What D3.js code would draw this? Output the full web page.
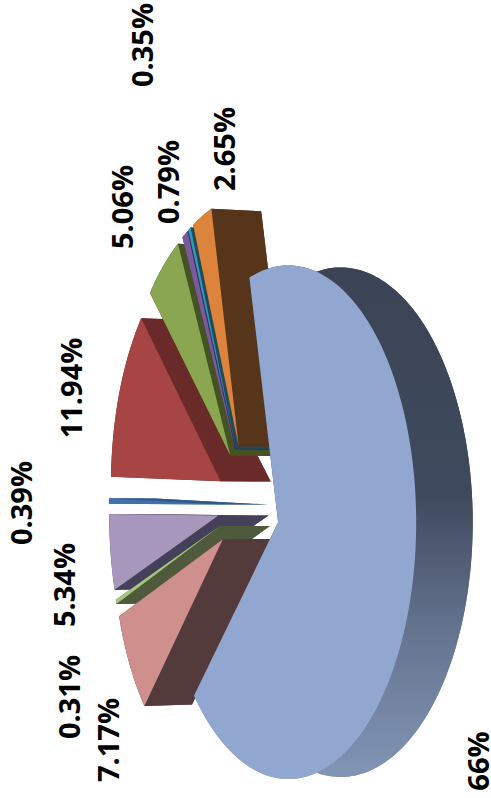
<!DOCTYPE html>
<html>
  <head>
    <meta charset="utf-8">
    <title>Exploded pie</title>
    <script src="https://cdnjs.cloudflare.com/ajax/libs/d3/7.8.5/d3.min.js"></script>
    <style>
      html, body { margin: 0; padding: 0; background: #fff; }
      svg { display: block; }
      text { font-family: "Open Sans", sans-serif; font-weight: 700; font-size: 29px; fill: #000; }
    </style>
  </head>
  <body>
    <svg id="chart" width="491" height="798"></svg>
    <script>
      // data, clockwise from the big slice
      const labels = ["66%", "7.17%", "0.31%", "5.34%", "0.39%", "11.94%", "5.06%", "0.79%", "0.35%", "2.65%"];
      const shares = [66, 7.17, 0.31, 5.34, 0.39, 11.94, 5.06, 0.79, 0.35, 2.65];
      const faceColors = ["#92a7cf", "#cf8f8d", "#a9c47f", "#a897bc", "#3f72a8", "#a64543", "#8aa650", "#7a5a9c", "#2f9ab5", "#dc843c"];
      const wallColors = ["url(#bigWall)", "#543b3b", "#4f5a3c", "#45405a", "#33598a", "#6a2a2a", "#445224", "#3d2c55", "#1d4a5c", "#57351a"];
      // label anchors (middle of the rotated text, on its baseline)
      const labelX = [489, 119, 80, 75, 32, 82, 133, 179, 153, 235];
      const labelY = [761, 740, 697, 585, 503, 388, 207, 182, 45, 149];

      // view of the tilted pie
      const originX = 278, originY = 521;
      const perspective = 0.08, depth = 52, explode = 0.25, depthShrink = 0.008;
      const centre = [-0.24, -0.062];
      const start = -103.3 * Math.PI / 180;

      const scaleU = d3.scaleLinear().domain([-1, 1]).range([-127, 127]);
      const scaleV = d3.scaleLinear().domain([-1, 1]).range([-256, 256]);

      function project(p, z) {
        let s = 1 - perspective * p[0];
        return [
          originX + (scaleU(p[0]) + z * depth) / s,
          originY + scaleV(p[1]) * (1 - z * depthShrink) / s
        ];
      }

      const pie = d3.pie().sort(null)
        .startAngle(start)
        .endAngle(start + 2 * Math.PI);
      const slices = pie(shares);

      slices.forEach(d => {
        d.mid = (d.startAngle + d.endAngle) / 2;
        d.apex = [
          centre[0] + explode * Math.cos(d.mid),
          centre[1] + explode * Math.sin(d.mid)
        ];
        let steps = Math.max(2, Math.ceil((d.endAngle - d.startAngle) / 0.02));
        d.rim = d3.range(steps + 1).map(i => {
          let t = d.startAngle + (d.endAngle - d.startAngle) * i / steps;
          return [d.apex[0] + Math.cos(t), d.apex[1] + Math.sin(t)];
        });
      });

      const svg = d3.select("#chart");

      const grad = svg.append("defs").append("linearGradient")
        .attr("id", "bigWall")
        .attr("gradientUnits", "userSpaceOnUse")
        .attr("x1", 0).attr("x2", 0)
        .attr("y1", 265).attr("y2", 778);
      grad.append("stop").attr("offset", 0).attr("stop-color", "#3b4455");
      grad.append("stop").attr("offset", 0.45).attr("stop-color", "#3f4a5e");
      grad.append("stop").attr("offset", 0.7).attr("stop-color", "#63728d");
      grad.append("stop").attr("offset", 1).attr("stop-color", "#8295b6");

      const line = d3.line();

      // back to front: the side nearest the viewer goes last
      const order = d3.range(slices.length)
        .sort((a, b) => Math.cos(slices[a].mid) - Math.cos(slices[b].mid));

      const sliceGroups = svg.selectAll("g.slice")
          .data(order.map(i => slices[i]))
        .enter().append("g")
          .classed("slice", true);

      // walls: the two cut edges and the outer rim, pushed back by depth
      sliceGroups.each(function(d) {
        let group = d3.select(this);
        let first = d.rim[0], last = d.rim[d.rim.length - 1];
        let quads = [
          [project(d.apex, 0), project(first, 0), project(first, 1), project(d.apex, 1)],
          [project(d.apex, 0), project(last, 0), project(last, 1), project(d.apex, 1)],
          d.rim.map(p => project(p, 0)).concat(d.rim.slice().reverse().map(p => project(p, 1))),
          [project(d.apex, 1)].concat(d.rim.map(p => project(p, 1)))
        ];
        group.selectAll("path.wall")
            .data(quads)
          .enter().append("path")
            .classed("wall", true)
            .attr("d", q => line(q) + "Z")
            .attr("fill", wallColors[d.index]);
        group.append("path")
          .classed("face", true)
          .attr("d", line([project(d.apex, 0)].concat(d.rim.map(p => project(p, 0)))) + "Z")
          .attr("fill", faceColors[d.index]);
      });

      svg.selectAll("text")
          .data(labels)
        .enter().append("text")
          .attr("text-anchor", "middle")
          .attr("transform", (d, i) => "translate(" + labelX[i] + "," + labelY[i] + ") rotate(-90)")
          .text(d => d);
    </script>
  </body>
</html>
